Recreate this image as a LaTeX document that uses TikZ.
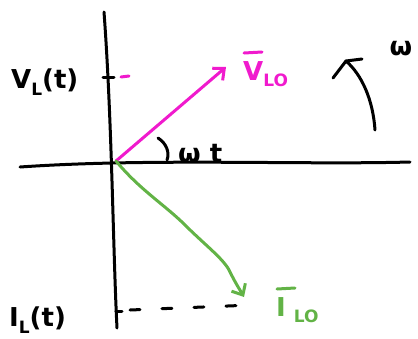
\documentclass[tikz,border=0pt]{standalone}
\usepackage{fontspec}
\setmainfont{DejaVu Sans}
\usetikzlibrary{arrows.meta}
\definecolor{mag}{HTML}{F01ACD}
\definecolor{grn}{HTML}{62B346}
\begin{document}
\begin{tikzpicture}[x=1pt,y=-1pt,line cap=round,line join=round,
  axis/.style={line width=3pt,black},
  pen/.style={line width=3pt},
  lbl/.style={font=\bfseries\fontsize{26}{29}\selectfont,inner sep=0pt},
  tip/.style={-{Straight Barb[length=9pt,width=16pt,line width=3pt]}}]
\useasboundingbox (0,0) rectangle (418,338);
% axes
\coordinate (O) at (116,161);
\coordinate (yt) at (104,12);
\coordinate (yb) at (117,328);
\coordinate (xl) at (20,167);
\coordinate (xr) at (410,162);
\draw[axis] (yt) .. controls (112,120) and (113,250) .. (yb);
\draw[axis] (xl) .. controls (150,158) and (300,165) .. (xr);
% ticks
\coordinate (tv1) at (103,77); \coordinate (tv2) at (114,77);
\coordinate (tm1) at (121,77); \coordinate (tm2) at (129,76);
\coordinate (ti1) at (116,311); \coordinate (ti2) at (122,311);
\draw[pen] (tv1) -- (tv2);
\draw[pen,mag] (tm1) -- (tm2);
\draw[pen] (ti1) -- (ti2);
% magenta vector
\coordinate (V) at (226,67);
\draw[pen,mag,tip] (O) -- (V);
% green vector
\coordinate (G) at (244,297);
\draw[pen,grn,tip] (O) .. controls (140,190) and (165,205) .. (185,225)
  .. controls (205,245) and (225,260) .. (230,272)
  .. controls (236,284) and (240,290) .. (G);
% dashed projection
\coordinate (d1) at (130,310);
\coordinate (d2) at (252,305);
\draw[pen,dash pattern=on 10pt off 22pt] (d1) -- (d2);
% angle arc
\coordinate (a1) at (158,138);
\coordinate (a2) at (167,160);
\draw[pen] (a1) .. controls (166,143) and (170,152) .. (a2);
% rotation arrow
\coordinate (r1) at (375,130);
\coordinate (r2) at (346,61);
\coordinate (rb1) at (333,78);
\coordinate (rb2) at (362,59);
\draw[pen] (r1) .. controls (373,100) and (362,75) .. (r2);
\draw[pen] (rb1) -- (r2) -- (rb2);
% labels
\node[lbl,anchor=base west] (vl) at (11,88) {V\raisebox{-7pt}{\fontsize{17}{19}\selectfont L}(t)};
\node[lbl,anchor=base west] (il) at (9,326) {I\raisebox{-7pt}{\fontsize{17}{19}\selectfont L}(t)};
\node[lbl,anchor=base west,text=mag] (vlo) at (243,80) {V\raisebox{-6pt}{\fontsize{17}{19}\selectfont LO}};
\coordinate (vb1) at (244,53); \coordinate (vb2) at (262,52);
\draw[pen,mag] (vb1) -- (vb2);
\node[lbl,anchor=base west,text=grn] (ilo) at (276,316) {I\hspace{8pt}\raisebox{-6pt}{\fontsize{17}{19}\selectfont LO}};
\coordinate (ib1) at (277,289); \coordinate (ib2) at (295,288);
\draw[pen,grn] (ib1) -- (ib2);
\node[lbl,anchor=base west] (wt) at (178,162) {ω t};
\node[lbl,anchor=base] (w) at (401,55) {ω};
\end{tikzpicture}
\end{document}
